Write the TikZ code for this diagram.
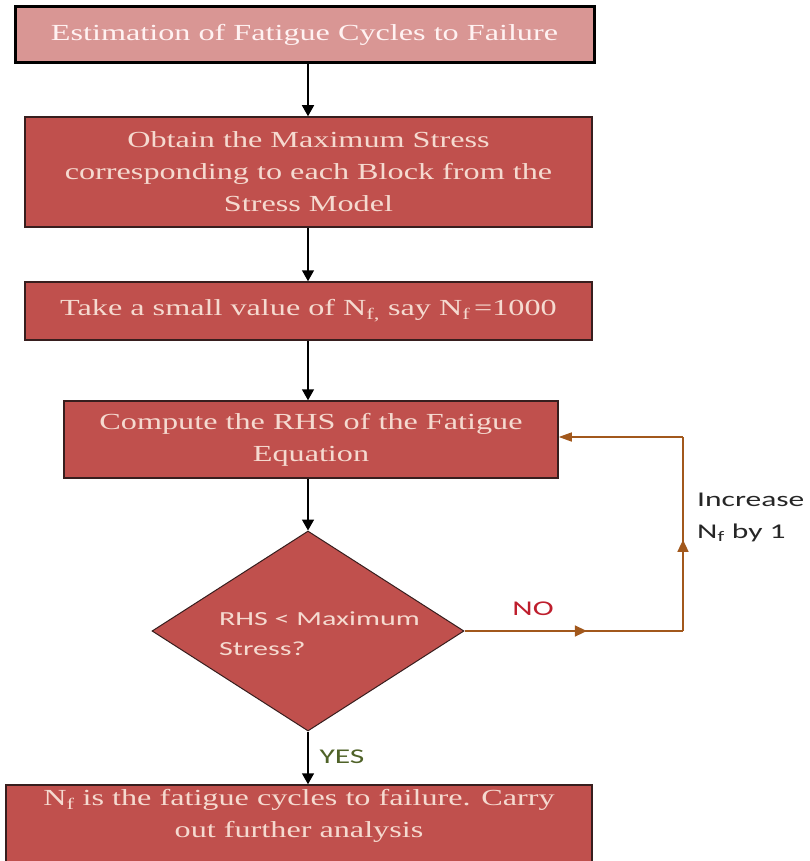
\documentclass[tikz,border=0pt]{standalone}
\usepackage{fontspec}
\newfontfamily\wserif[FakeStretch=1.4]{Liberation Serif}
\newfontfamily\wsans[FakeStretch=1.5]{Carlito}
\usetikzlibrary{shapes.geometric,arrows.meta,decorations.markings}
\definecolor{boxfill}{RGB}{192,80,77}
\definecolor{topfill}{RGB}{217,150,148}
\definecolor{boxtxt}{RGB}{245,218,208}
\definecolor{toptxt}{RGB}{255,242,242}
\definecolor{edgec}{RGB}{55,30,30}
\definecolor{loopc}{RGB}{162,88,28}
\definecolor{nored}{RGB}{190,30,45}
\definecolor{yesgreen}{RGB}{79,98,40}
\begin{document}
\begin{tikzpicture}[x=1pt,y=-1pt,
  flowbox/.style={rectangle, draw=edgec, line width=1.5pt, fill=boxfill, text=boxtxt,
    inner sep=0pt, align=center, font=\wserif\fontsize{23}{32}\selectfont},
  topbox/.style={flowbox, draw=black, line width=3pt, fill=topfill, text=toptxt},
  flowtxt/.style={inner sep=0pt, align=center, text=boxtxt, font=\wserif\fontsize{23}{32}\selectfont},
  decision/.style={diamond, draw=edgec, line width=1pt, fill=boxfill, inner sep=0pt},
  dtxt/.style={inner sep=0pt, align=left, text=boxtxt, font=\wsans\fontsize{20}{30}\selectfont},
  lbl/.style={inner sep=0pt, font=\wsans\fontsize{21}{33}\selectfont},
  flowarrow/.style={draw=black, line width=1.5pt, -{Triangle[width=12pt,length=11pt]}},
  loopline/.style={draw=loopc, line width=1.5pt},
  midarrow/.style={loopline, postaction={decorate}, decoration={markings,
    mark=at position #1 with {\arrow{Triangle[width=11pt,length=12pt]}}}},
]
\useasboundingbox (0,0) rectangle (810,861);
\begin{scope}
\clip (0,0) rectangle (810,861);
\node[flowbox, minimum width=586pt, minimum height=90pt] (box5) at (299,830) {};
\end{scope}
\node[flowtxt] (t5) at (299,816) {N\textsubscript{f} is the fatigue cycles to failure. Carry\\out further analysis};

\node[topbox, minimum width=579pt, minimum height=56pt] (box1) at (304.5,35)
  {Estimation of Fatigue Cycles to Failure};
\node[flowbox, minimum width=567pt, minimum height=110pt] (box2) at (308.5,172)
  {Obtain the Maximum Stress\\corresponding to each Block from the\\Stress Model};
\node[flowbox, minimum width=567pt, minimum height=58pt] (box3) at (308.5,311)
  {Take a small value of N\textsubscript{f,} say N\textsubscript{f}\,=1000};
\node[flowbox, minimum width=494pt, minimum height=77pt] (box4) at (311,439.5)
  {Compute the RHS of the Fatigue\\Equation};
\node[decision, minimum width=312pt, minimum height=200pt] (dia) at (308,631) {};
\node[dtxt, anchor=west] (dt) at (219,634) {RHS < Maximum\\Stress?};

\draw[flowarrow] (box1.south -| dia.north) -- (box2.north -| dia.north);
\draw[flowarrow] (box2.south -| dia.north) -- (box3.north -| dia.north);
\draw[flowarrow] (box3.south -| dia.north) -- (box4.north -| dia.north);
\draw[flowarrow] (box4.south -| dia.north) -- (dia.north);
\draw[flowarrow] (dia.south) -- (box5.north -| dia.south);

\coordinate (c1) at (683,631);
\coordinate (c2) at (683,437);
\draw[midarrow=0.56] (dia.east) -- (c1);
\draw[midarrow=0.47] (c1) -- (c2);
\draw[loopline, -{Triangle[width=9pt,length=13pt]}] (c2) -- (box4.east |- c2);

\node[lbl, text=nored] (no) at (533,609) {NO};
\node[lbl, text=yesgreen] (yes) at (342,757) {YES};
\node[lbl, text=black!85, anchor=west] (inc) at (697,500) {Increase};
\node[lbl, text=black!85, anchor=west] (nf) at (697,533) {N\textsubscript{f} by 1};
\end{tikzpicture}
\end{document}
